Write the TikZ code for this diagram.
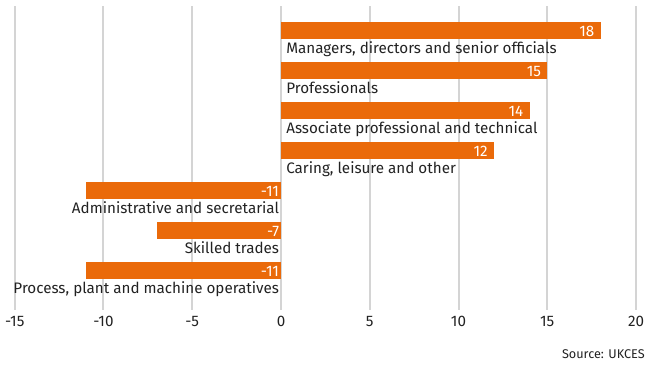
\documentclass[tikz,border=0pt]{standalone}
\usepackage{fontspec}
\setmainfont{Fira Sans}
\usepackage{tikz}

\definecolor{barorange}{HTML}{EA6A0A}
\definecolor{gridgray}{HTML}{D4D4D4}
\definecolor{textgray}{HTML}{222222}

\begin{document}
\begin{tikzpicture}
            [x=13.3125pt,y=-0.75pt,font=\fontsize{11.4}{13}\selectfont,text=textgray,
            bar/.style={fill=barorange},
            grid/.style={draw=gridgray,line width=1.5pt},
            value/.style={text=white,inner sep=0pt,anchor=base east},
            cat/.style={inner sep=0pt},
            tick/.style={inner sep=0pt,anchor=base}]
            \useasboundingbox (-15.831,0) rectangle (20.563,365);
            % grid lines
            \foreach \v in {-15,-10,...,20}
                \draw[grid] (\v,6) -- (\v,310);
            % positive bars
            \foreach \v/\t/\name [count=\i] in {18/Managers{,} directors and senior officials/mgr,
                15/Professionals/prof,
                14/Associate professional and technical/assoc,
                12/{Caring, leisure and other}/care}
            {
                \pgfmathsetmacro{\top}{22+40*(\i-1)}
                \fill[bar] (0,\top) rectangle (\v,\top+16.7);
                \node[value] (\name v) at ([xshift=-4.5pt]\v,\top+14) {\v};
                \node[cat,anchor=base west] (\name) at ([xshift=3.8pt]0,\top+31.3) {\t};
            }
            % negative bars
            \foreach \v/\t/\name [count=\i] in {-11/Administrative and secretarial/admin,
                -7/Skilled trades/skill,
                -11/{Process, plant and machine operatives}/proc}
            {
                \pgfmathsetmacro{\top}{182+40*(\i-1)}
                \fill[bar] (0,\top) rectangle (\v,\top+16.7);
                \node[value] (\name v) at ([xshift=-1.3pt]0,\top+14) {\v};
                \node[cat,anchor=base east] (\name) at ([xshift=-1.3pt]0,\top+31.3) {\t};
            }
            % axis labels
            \foreach \v in {-15,-10,...,20}
                \node[tick] (tick\v) at (\v,326) {\v};
            \node[inner sep=0pt,anchor=base east,font=\fontsize{9.5}{11}\selectfont] (source) at (20.51,358) {Source: UKCES};
        \end{tikzpicture}
\end{document}
